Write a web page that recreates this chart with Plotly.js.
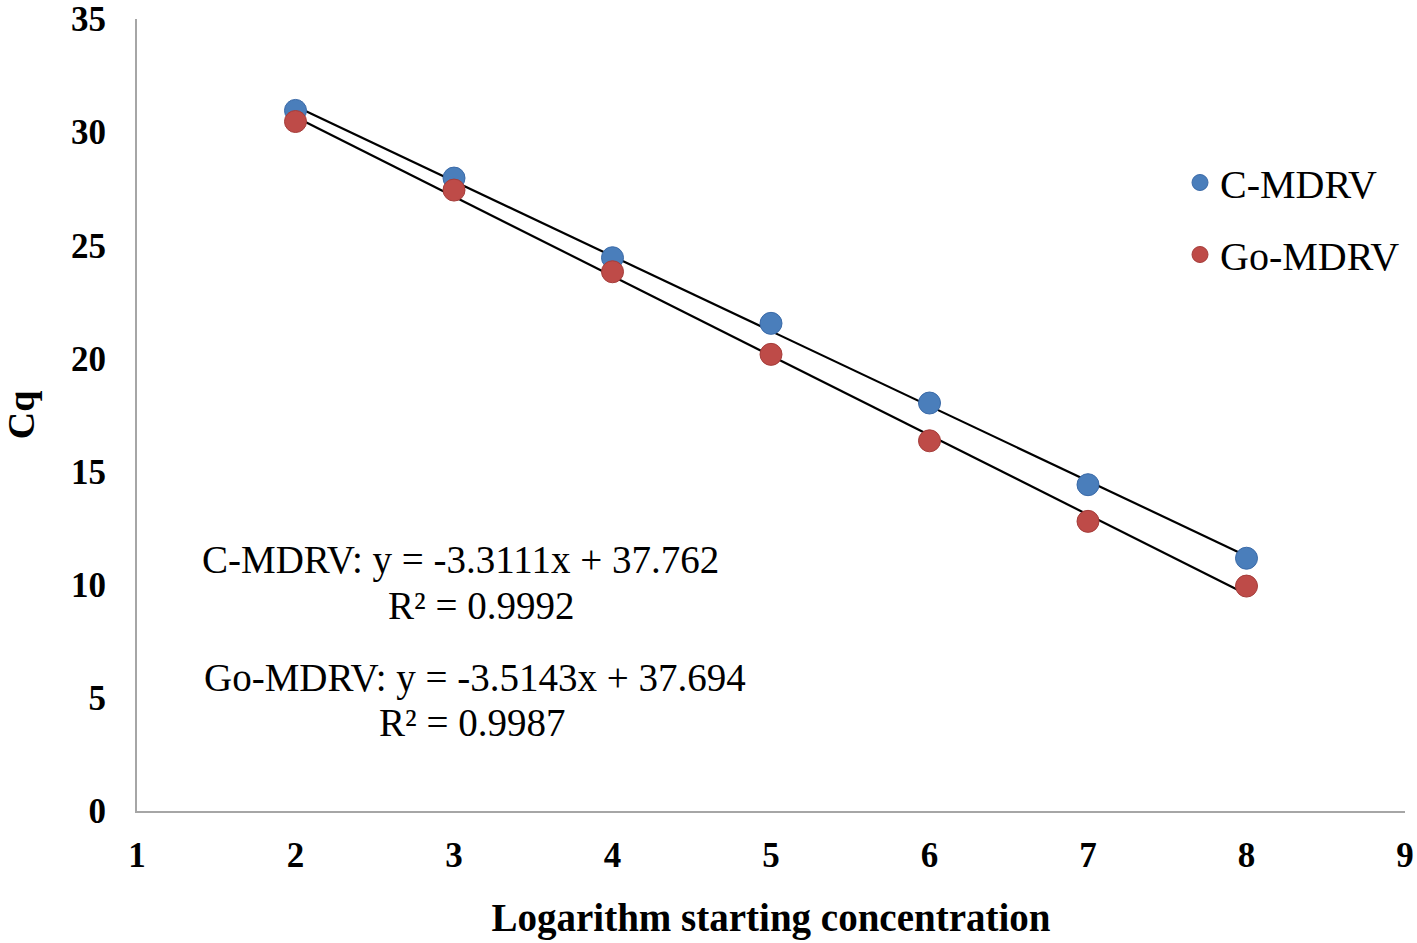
<!DOCTYPE html>
<html>
<head>
<meta charset="utf-8">
<script src="https://cdn.plot.ly/plotly-3.0.1.min.js"></script>
<style>html,body{margin:0;padding:0;background:#fff;}#chart{width:1417px;height:943px;}</style>
</head>
<body>
<div id="chart"></div>
<script>
const logConc = [2, 3, 4, 5, 6, 7, 8];
const cqC = [30.96, 27.97, 24.45, 21.55, 18.03, 14.42, 11.17];
const cqGo = [30.47, 27.44, 23.83, 20.18, 16.36, 12.80, 9.94];
const seriesNames = ['C-MDRV', 'Go-MDRV'];
const slopes = [-3.3111, -3.5143];
const intercepts = [37.762, 37.694];
const r2 = [0.9992, 0.9987];
const xTicks = [1, 2, 3, 4, 5, 6, 7, 8, 9];
const yTicks = [0, 5, 10, 15, 20, 25, 30, 35];

const colors = ['#4a7ebb', '#be4b48'];
const lineColors = ['#3a6aa8', '#a53d3a'];
const serif = 'Liberation Serif, Times New Roman, serif';

const xMin = Math.min(...logConc), xMax = Math.max(...logConc);
const traces = [];
[cqC, cqGo].forEach((ys, i) => {
  traces.push({
    x: [xMin, xMax],
    y: [slopes[i] * xMin + intercepts[i], slopes[i] * xMax + intercepts[i]],
    mode: 'lines', line: {color: '#000', width: 2.2}, showlegend: false, hoverinfo: 'skip'
  });
});
[cqC, cqGo].forEach((ys, i) => {
  traces.push({
    x: logConc, y: ys, mode: 'markers', name: seriesNames[i], legendgroup: 'g' + i,
    marker: {color: colors[i], size: 22, line: {color: lineColors[i], width: 1}}
  });
});

const eqText = i => seriesNames[i] + ': y = ' + slopes[i].toFixed(4) + 'x + ' + intercepts[i].toFixed(3);
const r2Text = i => 'R² = ' + r2[i].toFixed(4);
const annFont = {family: serif, size: 39, color: '#000'};
const plotTop = 19, plotBottom = 811, plotH = plotBottom - plotTop;
const py = pix => (plotBottom - pix) / plotH;
const ann = (text, x, ypix) => ({xref: 'paper', yref: 'paper', x: x, y: py(ypix), xanchor: 'center', yanchor: 'middle', text: text, showarrow: false, font: annFont});

const layout = {
  width: 1417, height: 943,
  margin: {l: 137, r: 12, t: plotTop, b: 943 - plotBottom},
  paper_bgcolor: '#fff', plot_bgcolor: '#fff',
  font: {family: serif, color: '#000'},
  xaxis: {
    range: [1, 9], tickvals: xTicks, showgrid: false, zeroline: false,
    showline: true, linecolor: '#a6a6a6', linewidth: 2,
    ticks: 'outside', ticklen: 12, tickcolor: 'rgba(0,0,0,0)',
    ticklabeloverflow: 'allow',
    tickfont: {family: serif, size: 35, color: '#000', weight: 'bold'},
    title: {text: '<b>Logarithm starting concentration</b>', font: {family: serif, size: 39, color: '#000'}, standoff: 30}
  },
  yaxis: {
    range: [0, 35], tickvals: yTicks, showgrid: false, zeroline: false,
    showline: true, linecolor: '#a6a6a6', linewidth: 2,
    ticks: 'outside', ticklen: 22, tickcolor: 'rgba(0,0,0,0)',
    ticklabeloverflow: 'allow',
    tickfont: {family: serif, size: 35, color: '#000', weight: 'bold'},
    title: {text: '<b>Cq</b>', font: {family: serif, size: 38, color: '#000'}, standoff: 30}
  },
  legend: {
    x: 1.0, xanchor: 'right', y: py(150), yanchor: 'top',
    font: {family: serif, size: 40, color: '#000'},
    itemsizing: 'trace', traceorder: 'grouped', tracegroupgap: 17, bgcolor: 'rgba(0,0,0,0)'
  },
  annotations: [
    ann(eqText(0), 0.2555, 560),
    ann(r2Text(0), 0.2713, 605),
    ann(eqText(1), 0.2666, 678),
    ann(r2Text(1), 0.2642, 722)
  ],
  showlegend: true
};
Plotly.newPlot('chart', traces, layout, {displayModeBar: false, staticPlot: true});
</script>
</body>
</html>
